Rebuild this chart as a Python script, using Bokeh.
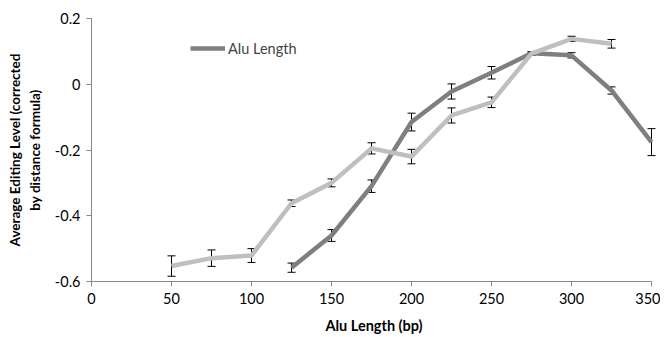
from bokeh.plotting import figure
from bokeh.models import (ColumnDataSource, Whisker, TeeHead, FixedTicker,
                          NumeralTickFormatter, Legend, LegendItem, Range1d)
from bokeh.embed import file_html
from bokeh.resources import INLINE

# Data
dark_x = [125, 150, 175, 200, 225, 250, 275, 300, 325, 350]
dark_y = [-0.558, -0.460, -0.310, -0.115, -0.022, 0.035, 0.094, 0.088, -0.019, -0.176]
dark_err = [0.014, 0.018, 0.019, 0.027, 0.023, 0.019, 0.005, 0.008, 0.011, 0.041]

light_x = [50, 75, 100, 125, 150, 175, 200, 225, 250, 275, 300, 325]
light_y = [-0.553, -0.529, -0.521, -0.362, -0.300, -0.195, -0.220, -0.095, -0.055, 0.093, 0.138, 0.123]
light_err = [0.031, 0.025, 0.021, 0.010, 0.012, 0.017, 0.022, 0.023, 0.016, 0.005, 0.008, 0.013]

x_ticks = [0, 50, 100, 150, 200, 250, 300, 350]
y_ticks = [-0.6, -0.4, -0.2, 0, 0.2]

FONT = "Lato"

p = figure(frame_width=565, frame_height=263, output_backend="svg",
           toolbar_location=None, x_range=Range1d(0, 353.125), y_range=Range1d(-0.6, 0.2),
           min_border_left=91, min_border_top=18, min_border_right=4, min_border_bottom=50)
p.outline_line_color = None
p.grid.grid_line_color = None
p.background_fill_color = "white"

def src(xs, ys, es):
    return ColumnDataSource(dict(x=xs, y=ys,
                                 lo=[a - b for a, b in zip(ys, es)],
                                 hi=[a + b for a, b in zip(ys, es)]))

ds = src(dark_x, dark_y, dark_err)
ls = src(light_x, light_y, light_err)

dark_r = p.line("x", "y", source=ds, line_color="#7f7f7f", line_width=4.5)
light_r = p.line("x", "y", source=ls, line_color="#bfbfbf", line_width=4.5)

for s in (ds, ls):
    w = Whisker(base="x", lower="lo", upper="hi", source=s,
                line_color="black", line_width=1,
                upper_head=TeeHead(size=8, line_color="black", line_width=1),
                lower_head=TeeHead(size=8, line_color="black", line_width=1))
    p.add_layout(w)

for ax in (p.xaxis[0], p.yaxis[0]):
    ax.axis_line_color = "#868686"
    ax.major_tick_line_color = "#868686"
    ax.major_tick_in = 0
    ax.major_tick_out = 5
    ax.minor_tick_line_color = None
    ax.major_label_text_font = FONT
    ax.major_label_text_font_size = "14.5px"
    ax.major_label_text_color = "#000000"
    ax.axis_label_text_font = FONT
    ax.axis_label_text_font_style = "bold"
    ax.axis_label_text_color = "#000000"

p.xaxis.axis_label_text_font_size = "14.5px"
p.yaxis.axis_label_text_font_size = "13.5px"
p.xaxis.ticker = FixedTicker(ticks=x_ticks)
p.xaxis.bounds = (0, 350)
p.yaxis.ticker = FixedTicker(ticks=y_ticks)
p.yaxis.formatter = NumeralTickFormatter(format="0.[0]")
p.xaxis.major_label_standoff = 6
p.yaxis.major_label_standoff = 6
p.xaxis.axis_label = "Alu Length (bp)"
p.yaxis.axis_label = "Average Editing Level (corrected\nby distance formula)"
p.yaxis.axis_label_text_line_height = 1.25
p.xaxis.axis_label_standoff = 10
p.yaxis.axis_label_standoff = 9

legend = Legend(items=[LegendItem(label="Alu Length", renderers=[dark_r])],
                location=(99, 223), padding=0, margin=0, spacing=0,
                glyph_width=35, glyph_height=20, label_height=20,
                label_standoff=3, label_text_font=FONT, label_text_font_size="14.5px",
                border_line_color=None, background_fill_alpha=0)
p.add_layout(legend, "center")

open("out.html", "w").write(file_html(p, INLINE))
